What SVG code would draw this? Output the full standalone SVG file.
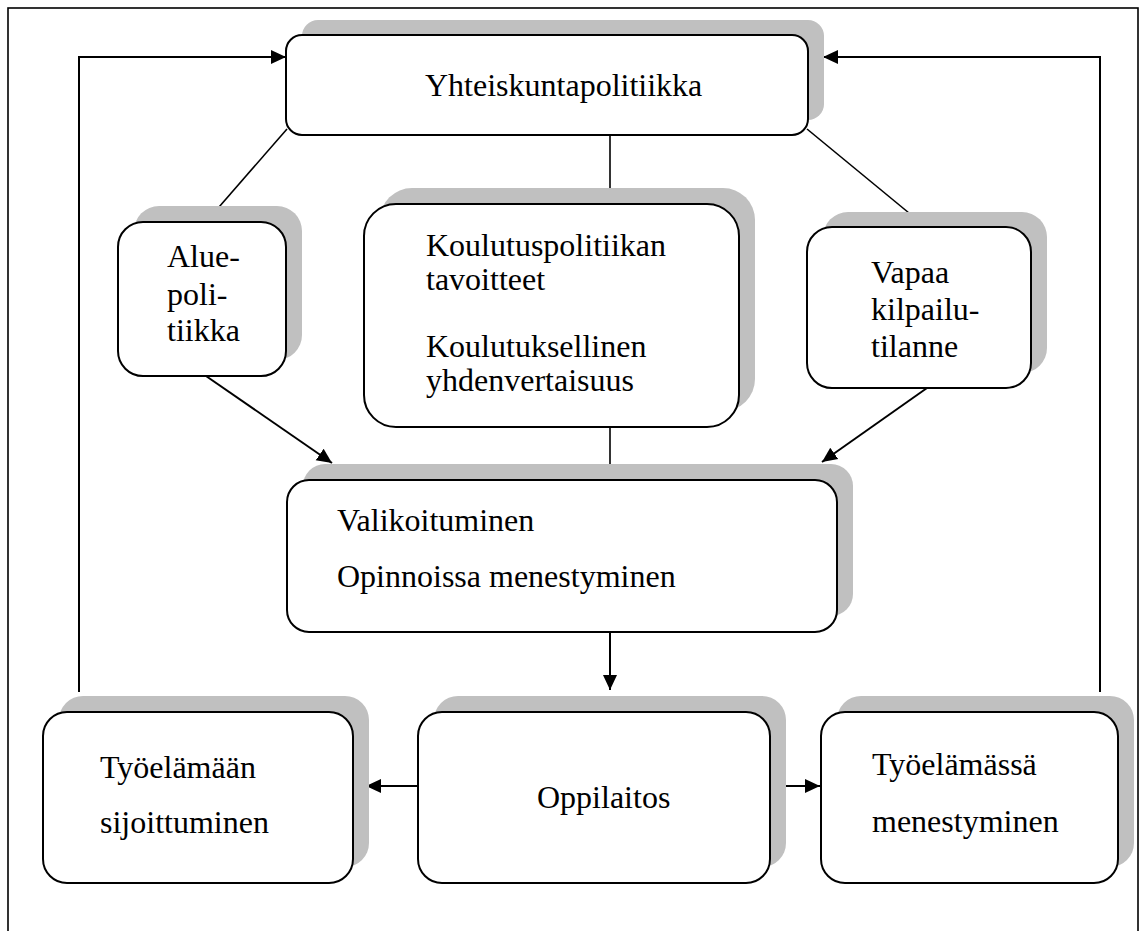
<svg xmlns="http://www.w3.org/2000/svg" width="1141" height="931" viewBox="0 0 1141 931">
<style>
.shadow{fill:#c0c0c0;stroke:none}
.box{fill:#fff;stroke:#000;stroke-width:2}
.conn{fill:none;stroke:#000;stroke-width:2}
.thin{fill:none;stroke:#000;stroke-width:1.6}
text{font-family:"Liberation Serif","Times New Roman",serif;font-size:32px;fill:#000}
</style>
<defs>
<marker id="arr" markerUnits="userSpaceOnUse" markerWidth="16" markerHeight="16" viewBox="0 0 16 16" refX="15" refY="8" orient="auto">
<path d="M0,1 L15,8 L0,15 Z" fill="#000"/>
</marker>
</defs>
<rect x="8" y="8" width="1130" height="940" fill="none" stroke="#000" stroke-width="1.6"/>
<g id="connectors">
<path class="conn" d="M79,692 V57 H286" marker-end="url(#arr)"/>
<path class="conn" d="M1100,692 V57 H823" marker-end="url(#arr)"/>
<line class="thin" x1="287" y1="129" x2="206" y2="222"/>
<line class="thin" x1="807" y1="129" x2="926" y2="227"/>
<line class="thin" x1="610" y1="135" x2="610" y2="204"/>
<line class="thin" x1="610" y1="427" x2="610" y2="480"/>
<line class="conn" x1="206" y1="376" x2="332" y2="463" marker-end="url(#arr)"/>
<line class="conn" x1="927" y1="388" x2="822" y2="462" marker-end="url(#arr)"/>
<line class="conn" x1="610" y1="632" x2="610" y2="690" marker-end="url(#arr)"/>
<line class="conn" x1="418" y1="786" x2="366" y2="786" marker-end="url(#arr)"/>
<line class="conn" x1="786" y1="786" x2="820" y2="786" marker-end="url(#arr)"/>
</g>
<g id="yhteiskuntapolitiikka">
<rect class="shadow" x="302" y="20" width="522" height="100" rx="16"/>
<rect class="box" x="286" y="35" width="522" height="100" rx="16"/>
<text x="425" y="96">Yhteiskuntapolitiikka</text>
</g>
<g id="aluepolitiikka">
<rect class="shadow" x="134" y="206" width="168" height="154" rx="25"/>
<rect class="box" x="118" y="222" width="168" height="154" rx="25"/>
<text x="167" y="267">Alue-</text>
<text x="167" y="305">poli-</text>
<text x="167" y="341">tiikka</text>
</g>
<g id="koulutuspolitiikka">
<rect class="shadow" x="380" y="188" width="375" height="223" rx="32"/>
<rect class="box" x="364" y="204" width="375" height="223" rx="32"/>
<text x="426" y="256">Koulutuspolitiikan</text>
<text x="426" y="290">tavoitteet</text>
<text x="426" y="357">Koulutuksellinen</text>
<text x="426" y="391">yhdenvertaisuus</text>
</g>
<g id="vapaa-kilpailu">
<rect class="shadow" x="823" y="212" width="224" height="161" rx="25"/>
<rect class="box" x="807" y="227" width="224" height="161" rx="25"/>
<text x="871" y="283">Vapaa</text>
<text x="871" y="320">kilpailu-</text>
<text x="871" y="357">tilanne</text>
</g>
<g id="valikoituminen">
<rect class="shadow" x="303" y="464" width="550" height="152" rx="22"/>
<rect class="box" x="287" y="480" width="550" height="152" rx="22"/>
<text x="337" y="531">Valikoituminen</text>
<text x="337" y="587">Opinnoissa menestyminen</text>
</g>
<g id="sijoittuminen">
<rect class="shadow" x="59" y="696" width="310" height="171" rx="24"/>
<rect class="box" x="43" y="712" width="310" height="171" rx="24"/>
<text x="100" y="778">Työelämään</text>
<text x="100" y="833">sijoittuminen</text>
</g>
<g id="oppilaitos">
<rect class="shadow" x="434" y="696" width="352" height="171" rx="24"/>
<rect class="box" x="418" y="712" width="352" height="171" rx="24"/>
<text x="537" y="808">Oppilaitos</text>
</g>
<g id="menestyminen">
<rect class="shadow" x="837" y="696" width="297" height="171" rx="24"/>
<rect class="box" x="821" y="712" width="297" height="171" rx="24"/>
<text x="872" y="775">Työelämässä</text>
<text x="872" y="832">menestyminen</text>
</g>
</svg>
